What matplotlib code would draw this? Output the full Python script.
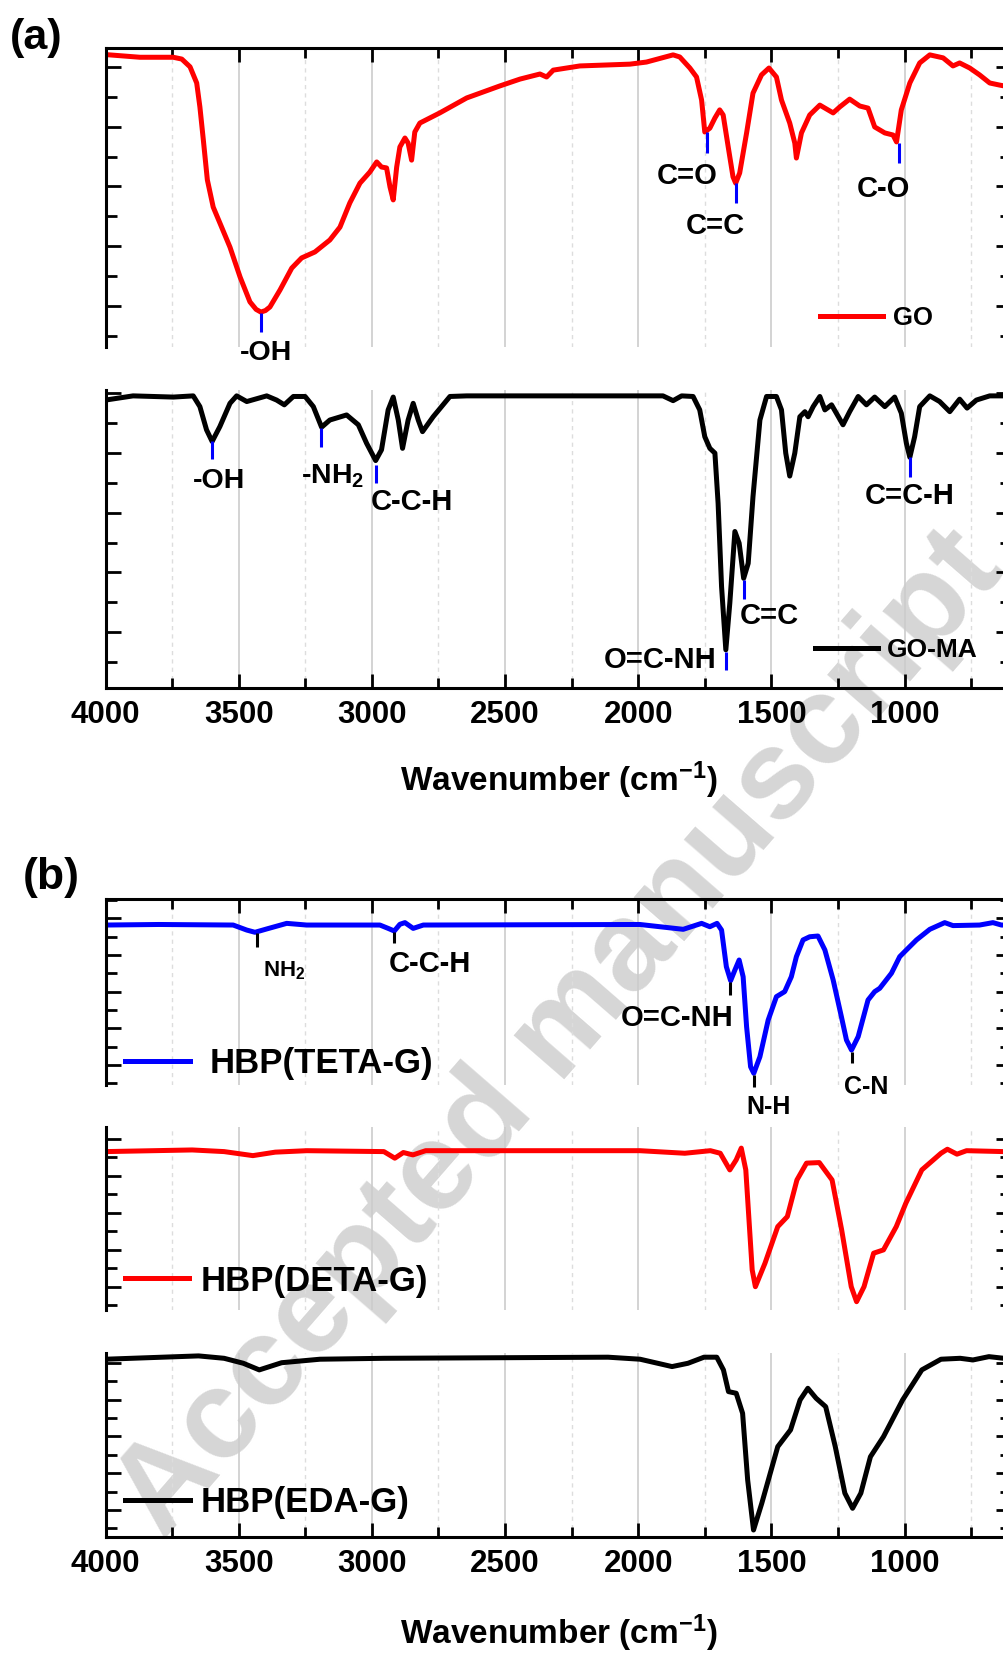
import numpy as np
import matplotlib
matplotlib.use("Agg")
import matplotlib.pyplot as plt
from matplotlib.ticker import MultipleLocator, FixedLocator

plt.rcParams["font.family"] = ["Liberation Sans", "DejaVu Sans"]
plt.rcParams["font.weight"] = "bold"
plt.rcParams["axes.labelweight"] = "bold"
plt.rcParams["mathtext.default"] = "regular"

# ---- data (wavenumber in cm-1, transmittance in a.u.) ----
go_wn = [4000, 3871, 3746, 3714, 3683, 3658, 3646, 3633, 3618, 3596, 3571, 3533, 3495, 3458,
         3435, 3417, 3400, 3383, 3345, 3301, 3264, 3214, 3158, 3120, 3083, 3045, 3008, 2982,
         2964, 2945, 2932, 2920, 2907, 2895, 2876, 2864, 2851, 2839, 2820, 2745, 2644, 2520,
         2444, 2369, 2344, 2319, 2219, 2031, 1969, 1869, 1844, 1806, 1781, 1762, 1750, 1731,
         1712, 1694, 1681, 1662, 1644, 1634, 1619, 1593, 1569, 1537, 1509, 1481, 1462, 1431,
         1412, 1406, 1387, 1356, 1318, 1268, 1243, 1206, 1168, 1137, 1112, 1074, 1043, 1030,
         1012, 980, 943, 905, 855, 818, 793, 755, 718, 680, 643, 600]
go_t = [97.8, 96.9, 96.9, 96.3, 93.7, 88.3, 80.3, 69.2, 55.9, 46.8, 41.5, 33.4, 23.4, 15.1,
        12.6, 11.7, 12.2, 13.4, 19.1, 26.4, 29.8, 31.8, 35.8, 40.1, 48.2, 54.8, 58.5, 61.9,
        60.2, 59.9, 53.5, 49.2, 60.2, 66.9, 69.9, 68.2, 62.5, 71.9, 74.9, 78.3, 83.3, 87.3,
        89.6, 91.3, 90.3, 92.6, 94.0, 94.6, 95.3, 97.7, 97.0, 93.3, 90.3, 82.6, 71.9, 73.2,
        76.6, 79.3, 77.6, 66.9, 56.9, 54.8, 58.2, 71.6, 84.9, 91.0, 93.3, 90.3, 82.6, 74.9,
        68.2, 63.2, 71.6, 77.6, 80.9, 78.3, 80.3, 82.9, 80.6, 79.9, 73.6, 71.6, 70.9, 68.6,
        79.3, 88.3, 95.0, 97.7, 96.7, 94.0, 95.0, 93.3, 91.0, 88.3, 87.6, 86.9]

goma_wn = [4000, 3897, 3746, 3671, 3646, 3621, 3600, 3571, 3533, 3508, 3470, 3395, 3358, 3329,
           3295, 3251, 3220, 3189, 3158, 3095, 3051, 3020, 2986, 2964, 2939, 2920, 2901, 2885,
           2864, 2845, 2826, 2810, 2770, 2707, 2644, 1907, 1869, 1837, 1794, 1769, 1750, 1731,
           1712, 1700, 1687, 1671, 1656, 1637, 1621, 1604, 1587, 1569, 1543, 1518, 1481, 1462,
           1446, 1431, 1412, 1393, 1374, 1362, 1343, 1318, 1299, 1274, 1256, 1231, 1206, 1174,
           1143, 1112, 1074, 1037, 1012, 993, 980, 962, 943, 905, 868, 830, 793, 765, 730, 680, 600]
goma_t = [96.6, 98.0, 97.6, 98.0, 94.4, 86.6, 82.7, 87.7, 95.5, 98.0, 96.1, 98.0, 96.6, 95.0,
          97.8, 97.8, 94.4, 87.5, 89.9, 91.6, 88.3, 82.1, 76.3, 79.9, 93.3, 97.6, 89.9, 80.4,
          89.9, 95.5, 89.9, 86.0, 91.0, 97.8, 98.0, 98.0, 96.4, 98.0, 97.8, 93.3, 84.3, 80.4,
          78.8, 62.0, 34.0, 12.8, 28.5, 52.5, 48.6, 36.8, 41.8, 64.2, 89.9, 97.8, 97.8, 93.3,
          78.8, 71.1, 78.8, 91.0, 92.7, 91.0, 94.4, 97.8, 93.3, 95.0, 92.2, 88.3, 92.7, 97.8,
          95.0, 97.6, 94.4, 97.6, 92.2, 82.1, 77.4, 84.3, 94.4, 98.0, 96.1, 92.7, 96.9, 93.9,
          96.6, 98.0, 98.0]

teta_wn = [4000, 3800, 3521, 3470, 3439, 3395, 3320, 3245, 2970, 2939, 2916, 2895, 2876, 2845,
           2807, 1994, 1919, 1831, 1762, 1731, 1704, 1687, 1669, 1653, 1637, 1621, 1606, 1593,
           1578, 1566, 1543, 1512, 1481, 1450, 1425, 1406, 1381, 1356, 1325, 1299, 1268, 1237,
           1218, 1199, 1174, 1137, 1112, 1093, 1049, 1018, 993, 955, 905, 849, 818, 718, 668,
           636, 600]
teta_t = [86.0, 86.3, 86.0, 83.3, 82.1, 83.9, 86.9, 86.0, 86.0, 84.2, 82.8, 86.4, 87.3, 84.2,
          86.0, 86.3, 85.1, 83.7, 86.9, 85.1, 86.9, 83.3, 63.6, 56.1, 61.8, 67.2, 58.2, 31.3,
          9.8, 6.3, 15.2, 34.9, 47.5, 50.2, 58.2, 69.0, 78.0, 79.7, 80.1, 72.6, 56.5, 36.7,
          24.2, 18.8, 26.0, 45.7, 50.2, 52.0, 60.1, 69.0, 72.6, 78.0, 83.7, 87.3, 85.7, 86.0,
          87.3, 86.0, 86.0]

deta_wn = [4000, 3675, 3555, 3447, 3363, 3244, 2955, 2914, 2882, 2846, 2798, 1994, 1825, 1729,
           1692, 1656, 1632, 1613, 1596, 1584, 1572, 1560, 1524, 1476, 1440, 1404, 1368, 1320,
           1272, 1236, 1200, 1180, 1152, 1116, 1079, 1031, 995, 935, 863, 839, 803, 767, 628, 600]
deta_t = [86.5, 87.4, 86.5, 84.3, 86.2, 87.0, 86.5, 82.9, 86.0, 84.7, 87.0, 87.0, 85.6, 87.0,
          85.6, 76.5, 82.0, 88.4, 76.5, 49.2, 21.9, 12.7, 25.5, 45.5, 51.0, 71.0, 80.2, 80.5,
          71.0, 43.7, 12.7, 4.5, 12.7, 31.0, 32.8, 45.5, 58.3, 76.5, 85.6, 87.8, 85.1, 87.0,
          86.5, 86.5]

eda_wn = [4000, 3651, 3555, 3483, 3423, 3339, 3195, 2955, 2113, 1993, 1873, 1813, 1753, 1705,
          1680, 1661, 1632, 1608, 1589, 1567, 1536, 1476, 1428, 1392, 1363, 1332, 1296, 1260,
          1224, 1195, 1164, 1128, 1079, 1007, 935, 863, 791, 743, 683, 627, 600]
eda_t = [96.6, 98.4, 97.1, 94.4, 90.8, 94.7, 96.6, 97.1, 97.7, 96.6, 92.6, 94.4, 97.7, 97.7,
         90.8, 79.0, 78.1, 67.2, 31.0, 3.8, 18.3, 49.1, 58.2, 74.5, 80.8, 75.4, 70.8, 49.1,
         23.8, 15.6, 23.8, 43.6, 54.5, 74.5, 90.8, 96.6, 97.1, 96.2, 98.0, 97.1, 97.1]

# peak assignments: (label, wavenumber, marker top, marker bottom, text x, text y, size, va)
go_peaks = [("-OH", 3417, 11.4, 5.0, 3397, -2.0, 20.5, "center"),
            ("C=O", 1741, 71.9, 64.9, 1815, 57.2, 21, "center"),
            ("C=C", 1634, 54.8, 48.2, 1711, 40.5, 21, "center"),
            ("C-O", 1021, 68.2, 61.5, 1081, 52.8, 21, "center")]
goma_peaks = [("-OH", 3600, 82.7, 76.7, 3574, 69.6, 20.5, "center"),
              ("-NH$_2$", 3191, 87.2, 80.9, 3265, 68.7, 20.5, "baseline"),
              ("C-C-H", 2986, 74.8, 68.7, 2851, 62.3, 21, "center"),
              ("O=C-NH", 1671, 12.2, 6.0, 1919, 9.4, 21, "center"),
              ("C=C", 1604, 36.2, 29.9, 1507, 24.3, 21, "center"),
              ("C=C-H", 980, 77.4, 70.7, 980, 64.5, 21, "center")]
teta_peaks = [("NH$_2$", 3432, 81.6, 74.4, 3410, 58.2, 16, "baseline"),
              ("C-C-H", 2916, 82.4, 76.2, 2782, 65.1, 21, "center"),
              ("O=C-NH", 1656, 55.5, 48.4, 1853, 35.9, 21, "center"),
              ("N-H", 1566, 5.4, -0.9, 1512, -12.0, 18, "center"),
              ("C-N", 1199, 17.9, 11.7, 1143, -0.9, 18, "center")]

fig = plt.figure(figsize=(10.04, 16.55), dpi=100)

fig.text(0.558, 0.375, "Accepted manuscript", rotation=49, fontsize=91,
         color="#d6d6d6", ha="center", va="center", rotation_mode="anchor", zorder=-1)


def make_axes(rect, spines, ytick0, ystep):
    ax = fig.add_axes(rect)
    ax.set_facecolor("none")
    ax.set_axisbelow(True)
    ax.set_xlim(4000, 600)
    ax.set_ylim(0, 100)
    for s in ["top", "bottom", "left", "right"]:
        ax.spines[s].set_visible(s in spines)
        ax.spines[s].set_linewidth(2.2)
    ax.xaxis.set_major_locator(MultipleLocator(500))
    ax.xaxis.set_minor_locator(MultipleLocator(250))
    yt = np.arange(ytick0, 100, ystep)
    ax.yaxis.set_major_locator(FixedLocator(yt[1::2]))
    ax.yaxis.set_minor_locator(FixedLocator(yt[0::2]))
    ax.grid(True, which="major", axis="x", color="#cccccc", lw=1.2)
    ax.grid(True, which="minor", axis="x", color="#dddddd", lw=1.0, ls=(0, (3, 3)))
    ax.tick_params(axis="x", which="both", direction="in", width=2,
                   top="top" in spines, bottom="bottom" in spines, labelbottom=False)
    ax.tick_params(axis="x", which="major", length=10)
    ax.tick_params(axis="x", which="minor", length=7)
    ax.tick_params(axis="y", which="both", direction="in", width=2,
                   left=True, right=True, labelleft=False)
    ax.tick_params(axis="y", which="major", length=11)
    ax.tick_params(axis="y", which="minor", length=8)
    return ax


def add_peaks(ax, peaks, color):
    for lab, wn, t0, t1, tx, ty, fs, va in peaks:
        ax.vlines(wn, t1, t0, colors=color, lw=2.2, clip_on=False)
        ha = "left" if va == "baseline" else "center"
        ax.text(tx, ty, lab, fontsize=fs, ha=ha, va=va, clip_on=False)


def x_labels(ax, pad):
    ax.tick_params(axis="x", labelbottom=True, labelsize=22.5, pad=9)
    ax.set_xlabel("Wavenumber (cm$^{-1}$)", fontsize=24, fontweight="bold", labelpad=pad)


lw = 3.6

# panel (a)
ax1 = make_axes([0.1052, 0.7903, 0.9018, 0.1807], ["top", "left", "right"], 3.7, 10)
ax1.plot(go_wn, go_t, color="#ff0000", lw=lw, label="GO", solid_joinstyle="round")
add_peaks(ax1, go_peaks, "#0000ff")
ax1.legend(loc="center left", bbox_to_anchor=(0.789, 0.097), frameon=False, fontsize=18.5,
           handlelength=2.45, handletextpad=0.38, borderpad=0, borderaxespad=0)

ax2 = make_axes([0.1052, 0.5843, 0.9018, 0.1801], ["bottom", "left", "right"], 8.8, 10)
ax2.plot(goma_wn, goma_t, color="black", lw=lw, label="GO-MA", solid_joinstyle="round")
add_peaks(ax2, goma_peaks, "#0000ff")
ax2.legend(loc="center left", bbox_to_anchor=(0.7835, 0.1275), frameon=False, fontsize=19,
           handlelength=2.4, handletextpad=0.34, borderpad=0, borderaxespad=0)
x_labels(ax2, 21)

# panel (b)
ax3 = make_axes([0.1052, 0.3444, 0.9018, 0.1124], ["top", "left", "right"], 0.9, 9.86)
ax3.plot(teta_wn, teta_t, color="#0000ff", lw=lw, label="HBP(TETA-G)", solid_joinstyle="round")
add_peaks(ax3, teta_peaks, "black")
ax3.legend(loc="center left", bbox_to_anchor=(0.0214, 0.113), frameon=False, fontsize=25,
           handlelength=1.87, handletextpad=0.58, borderpad=0, borderaxespad=0)

ax4 = make_axes([0.1052, 0.2085, 0.9018, 0.1106], ["left", "right"], 2.7, 10.1)
ax4.plot(deta_wn, deta_t, color="#ff0000", lw=lw, label="HBP(DETA-G)", solid_joinstyle="round")
ax4.legend(loc="center left", bbox_to_anchor=(0.0214, 0.158), frameon=False, fontsize=25,
           handlelength=1.85, handletextpad=0.32, borderpad=0, borderaxespad=0)

ax5 = make_axes([0.1052, 0.0713, 0.9018, 0.1112], ["bottom", "left", "right"], 4.7, 10)
ax5.plot(eda_wn, eda_t, color="black", lw=lw, label="HBP(EDA-G)", solid_joinstyle="round")
ax5.legend(loc="center left", bbox_to_anchor=(0.0214, 0.185), frameon=False, fontsize=25,
           handlelength=1.87, handletextpad=0.3, borderpad=0, borderaxespad=0)
x_labels(ax5, 24)

fig.text(0.0364, 1 - 38 / 1655, "(a)", fontsize=31, ha="center", va="center")
fig.text(0.0513, 1 - 878 / 1655, "(b)", fontsize=32, ha="center", va="center")

fig.savefig("out.png", dpi=100)
